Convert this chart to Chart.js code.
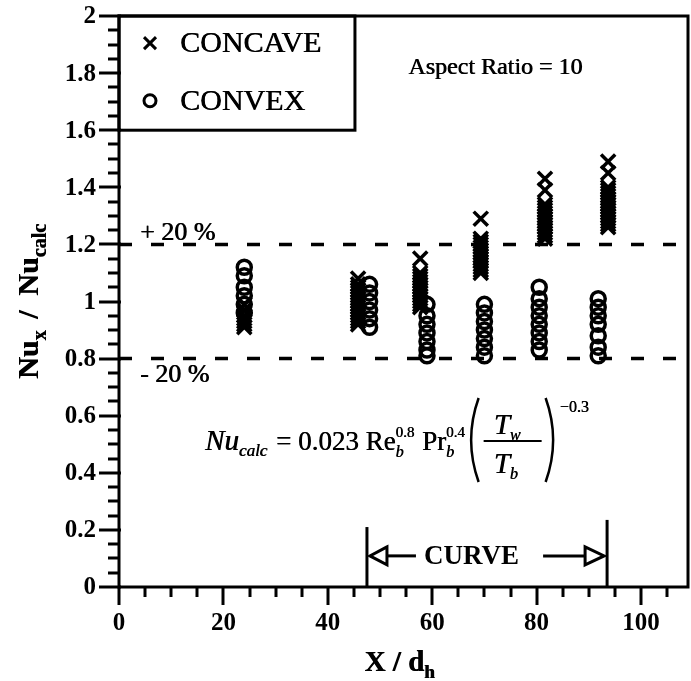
<!DOCTYPE html>
<html>
<head>
<meta charset="utf-8">
<script src="https://cdn.jsdelivr.net/npm/chart.js@4.4.1/dist/chart.umd.min.js"></script>
<style>
  html, body { margin: 0; padding: 0; background: #fff; }
  canvas { display: block; }
</style>
</head>
<body>
<canvas id="nuChart" width="691" height="681"></canvas>
<script>
// Measuring stations (X/dh) and Nu_x / Nu_calc readings at each station
const concaveStations = [24, 45.8, 57.7, 69.3, 81.6, 93.7];
const concaveRatios = [
    [0.99, 0.97, 0.95, 0.94, 0.93, 0.92, 0.91],
    [1.08, 1.06, 1.05, 1.04, 1.03, 1.02, 1.01, 1.00, 0.99, 0.98, 0.97, 0.96, 0.95, 0.94, 0.93, 0.92],
    [1.15, 1.10, 1.09, 1.08, 1.07, 1.06, 1.05, 1.04, 1.03, 1.02, 1.01, 1.00, 0.99, 0.98],
    [1.29, 1.22, 1.21, 1.20, 1.19, 1.18, 1.17, 1.16, 1.15, 1.14, 1.13, 1.12, 1.11, 1.10],
    [1.43, 1.39, 1.34, 1.33, 1.32, 1.31, 1.30, 1.29, 1.28, 1.27, 1.26, 1.25, 1.24, 1.23, 1.22],
    [1.49, 1.45, 1.40, 1.39, 1.38, 1.37, 1.36, 1.35, 1.34, 1.33, 1.32, 1.31, 1.30, 1.29, 1.28, 1.27, 1.26]
];

const convexStations = [24, 48, 59, 70, 80.5, 91.8];
const convexRatios = [
    [1.12, 1.09, 1.05, 1.02, 0.99, 0.96],
    [1.06, 1.03, 1.00, 0.97, 0.94, 0.91],
    [0.99, 0.95, 0.92, 0.89, 0.86, 0.83, 0.81],
    [0.99, 0.96, 0.93, 0.90, 0.87, 0.84, 0.81],
    [1.05, 1.01, 0.98, 0.95, 0.92, 0.89, 0.86, 0.83],
    [1.01, 0.98, 0.95, 0.92, 0.88, 0.84, 0.81]
];

// +/- 20 % band around the correlation
const bandLimits = [1.2, 0.8];
const bandLabels = ['+ 20 %', '- 20 %'];

// tick labels
const xTickValues = [0, 20, 40, 60, 80, 100];
const yTickValues = [0, 0.2, 0.4, 0.6, 0.8, 1, 1.2, 1.4, 1.6, 1.8, 2];

// extent of the curved section
const curveSpan = [47.5, 93.5];

const X_MAX = 109;
const SERIF = '"Liberation Serif", "DejaVu Serif", serif';

function toPoints(stations, ratios) {
    const pts = [];
    stations.forEach((sx, i) => {
        ratios[i].forEach(r => pts.push({ x: sx, y: r }));
    });
    return pts;
}

function bandLine(v) {
    return [{ x: 0, y: v }, { x: X_MAX, y: v }];
}

// regular-weight text inked a little heavier (two passes, half a pixel apart)
function heavyText(ctx, t, x, y) {
    ctx.fillText(t, x, y);
    ctx.fillText(t, x + 0.6, y);
}

// draws a row of text pieces, returns the x where it ends
function drawRuns(ctx, x, y, parts) {
    parts.forEach(p => {
        if (p.stack) {
            let w = 0;
            p.stack.forEach(s => {
                ctx.font = s.font;
                heavyText(ctx, s.t, x, y + s.dy);
                w = Math.max(w, ctx.measureText(s.t).width);
            });
            x += w + (p.gap || 0);
        } else {
            ctx.font = p.font;
            heavyText(ctx, p.t, x, y + (p.dy || 0));
            x += ctx.measureText(p.t).width + (p.gap || 0);
        }
    });
    return x;
}

function runsWidth(ctx, parts) {
    let w = 0;
    parts.forEach(p => {
        ctx.font = p.font;
        w += ctx.measureText(p.t).width + (p.gap || 0);
    });
    return w;
}

function line(ctx, x1, y1, x2, y2) {
    ctx.beginPath();
    ctx.moveTo(x1, y1);
    ctx.lineTo(x2, y2);
    ctx.stroke();
}

const paperPlugin = {
    id: 'paper',
    afterDraw(chart) {
        const { ctx, chartArea: a, scales: { x, y } } = chart;
        ctx.save();
        ctx.strokeStyle = '#000';
        ctx.fillStyle = '#000';
        ctx.lineCap = 'butt';

        // frame
        ctx.lineWidth = 3;
        ctx.strokeRect(a.left, a.top, a.right - a.left, a.bottom - a.top);

        // y ticks, minor every 0.05
        for (let i = 0; i <= 40; i++) {
            const py = Math.round(y.getPixelForValue(i * 0.05));
            const major = i % 4 === 0;
            line(ctx, a.left - (major ? 20 : 11), py, a.left + (major ? 2 : 0), py);
        }
        // x ticks, minor every 5
        for (let i = 0; i * 5 <= X_MAX; i++) {
            const px = Math.round(x.getPixelForValue(i * 5));
            const major = i % 4 === 0;
            line(ctx, px, a.bottom, px, a.bottom + (major ? 18 : 10));
        }

        // tick labels
        ctx.font = 'bold 25px ' + SERIF;
        ctx.textAlign = 'right';
        ctx.textBaseline = 'middle';
        yTickValues.forEach(v => ctx.fillText(String(v), a.left - 23, y.getPixelForValue(v) + 1));
        ctx.textAlign = 'center';
        xTickValues.forEach(v => ctx.fillText(String(v), x.getPixelForValue(v), a.bottom + 37));

        // axis titles
        ctx.textAlign = 'left';
        ctx.textBaseline = 'alphabetic';
        const xTitle = [
            { t: 'X / d', font: 'bold 29px ' + SERIF },
            { t: 'h', font: 'bold 19px ' + SERIF, dy: 7 }
        ];
        const xw = runsWidth(ctx, xTitle);
        drawRuns(ctx, (a.left + a.right) / 2 - xw / 2 - 4, 671, xTitle);

        const yTitle = [
            { t: 'Nu', font: 'bold 30px ' + SERIF },
            { t: 'x', font: 'bold 20px ' + SERIF, dy: 8, gap: 4 },
            { t: ' /  Nu', font: 'bold 30px ' + SERIF },
            { t: 'calc', font: 'bold 20px ' + SERIF, dy: 8 }
        ];
        const yw = runsWidth(ctx, yTitle);
        ctx.save();
        ctx.translate(38, (a.top + a.bottom) / 2);
        ctx.rotate(-Math.PI / 2);
        drawRuns(ctx, -yw / 2, 0, yTitle);
        ctx.restore();

        // legend box
        const lx = x.getPixelForValue(45.2);
        const ly = y.getPixelForValue(1.6);
        ctx.lineWidth = 3;
        ctx.strokeRect(a.left, a.top, lx - a.left, ly - a.top);
        const r1 = y.getPixelForValue(1.905);
        const r2 = y.getPixelForValue(1.703);
        line(ctx, 144, r1 - 6, 156, r1 + 6);
        line(ctx, 144, r1 + 6, 156, r1 - 6);
        ctx.beginPath();
        ctx.arc(150, r2, 6, 0, Math.PI * 2);
        ctx.stroke();
        ctx.font = '30px ' + SERIF;
        ctx.textBaseline = 'middle';
        heavyText(ctx, 'CONCAVE', 180, r1 + 1);
        heavyText(ctx, 'CONVEX', 180, r2 + 1);

        ctx.font = '24px ' + SERIF;
        heavyText(ctx, 'Aspect Ratio = 10', x.getPixelForValue(55.4), y.getPixelForValue(1.82));

        // band labels
        ctx.font = '26px ' + SERIF;
        heavyText(ctx, bandLabels[0], x.getPixelForValue(4), y.getPixelForValue(bandLimits[0] + 0.04));
        heavyText(ctx, bandLabels[1], x.getPixelForValue(4), y.getPixelForValue(bandLimits[1] - 0.058));

        // correlation
        ctx.textBaseline = 'alphabetic';
        const B = 450;
        const fx = drawRuns(ctx, 205, B, [
            { t: 'Nu', font: 'italic 29px ' + SERIF },
            { t: 'calc', font: 'italic 17px ' + SERIF, dy: 6, gap: 2 },
            { t: ' = 0.023 Re', font: '27px ' + SERIF },
            { stack: [
                { t: '0.8', font: '15px ' + SERIF, dy: -13 },
                { t: 'b', font: 'italic 16px ' + SERIF, dy: 7 }
            ], gap: 1 },
            { t: ' Pr', font: '27px ' + SERIF },
            { stack: [
                { t: '0.4', font: '15px ' + SERIF, dy: -13 },
                { t: 'b', font: 'italic 16px ' + SERIF, dy: 7 }
            ], gap: 2 }
        ]);
        ctx.lineWidth = 2.5;
        const pTop = B - 52, pBot = B + 32;
        ctx.beginPath();
        ctx.moveTo(fx + 12, pTop);
        ctx.quadraticCurveTo(fx - 3, (pTop + pBot) / 2, fx + 12, pBot);
        ctx.stroke();
        const barL = fx + 17, barR = fx + 75;
        ctx.lineWidth = 2;
        line(ctx, barL, B - 9, barR, B - 9);
        drawRuns(ctx, barL + 10, B - 16, [
            { t: 'T', font: 'italic 29px ' + SERIF },
            { t: 'w', font: 'italic 16px ' + SERIF, dy: 6 }
        ]);
        drawRuns(ctx, barL + 10, B + 23, [
            { t: 'T', font: 'italic 29px ' + SERIF },
            { t: 'b', font: 'italic 16px ' + SERIF, dy: 6 }
        ]);
        const rp = barR + 6;
        ctx.lineWidth = 2.5;
        ctx.beginPath();
        ctx.moveTo(rp - 2, pTop);
        ctx.quadraticCurveTo(rp + 13, (pTop + pBot) / 2, rp - 2, pBot);
        ctx.stroke();
        ctx.font = '16px ' + SERIF;
        heavyText(ctx, '\u22120.3', rp + 12, pTop + 14);

        // curved section marker
        const c0 = x.getPixelForValue(curveSpan[0]);
        const c1 = x.getPixelForValue(curveSpan[1]);
        const cy = y.getPixelForValue(0.109);
        ctx.lineWidth = 3;
        line(ctx, c0, a.bottom, c0, y.getPixelForValue(0.21));
        line(ctx, c1, a.bottom, c1, y.getPixelForValue(0.235));
        ctx.lineJoin = 'miter';
        ctx.beginPath();
        ctx.moveTo(c0 + 20, cy - 9);
        ctx.lineTo(c0 + 3, cy);
        ctx.lineTo(c0 + 20, cy + 9);
        ctx.closePath();
        ctx.stroke();
        line(ctx, c0 + 20, cy, c0 + 49, cy);
        ctx.beginPath();
        ctx.moveTo(c1 - 22, cy - 9);
        ctx.lineTo(c1 - 3, cy);
        ctx.lineTo(c1 - 22, cy + 9);
        ctx.closePath();
        ctx.stroke();
        line(ctx, c1 - 64, cy, c1 - 22, cy);
        ctx.font = 'bold 27px ' + SERIF;
        ctx.textBaseline = 'middle';
        ctx.fillText('CURVE', c0 + 57, cy + 1);

        ctx.restore();
    }
};

new Chart(document.getElementById('nuChart'), {
    type: 'scatter',
    data: {
        datasets: [
            {
                label: 'CONCAVE',
                data: toPoints(concaveStations, concaveRatios),
                pointStyle: 'crossRot',
                pointRadius: 10,
                pointBorderWidth: 3.5,
                borderColor: '#000',
                backgroundColor: '#000'
            },
            {
                label: 'CONVEX',
                data: toPoints(convexStations, convexRatios),
                pointStyle: 'circle',
                pointRadius: 7,
                pointBorderWidth: 3.5,
                borderColor: '#000',
                backgroundColor: 'rgba(0,0,0,0)'
            },
            {
                type: 'line',
                label: '+20%',
                data: bandLine(bandLimits[0]),
                borderColor: '#000',
                borderWidth: 3.5,
                borderDash: [13, 19],
                pointRadius: 0
            },
            {
                type: 'line',
                label: '-20%',
                data: bandLine(bandLimits[1]),
                borderColor: '#000',
                borderWidth: 3.5,
                borderDash: [13, 19],
                pointRadius: 0
            }
        ]
    },
    options: {
        responsive: false,
        animation: false,
        layout: { autoPadding: false, padding: { left: 119, right: 3, top: 16, bottom: 94 } },
        plugins: {
            legend: { display: false },
            tooltip: { enabled: false }
        },
        scales: {
            x: { type: 'linear', min: 0, max: X_MAX, display: false },
            y: { type: 'linear', min: 0, max: 2, display: false }
        }
    },
    plugins: [paperPlugin]
});
</script>
</body>
</html>
